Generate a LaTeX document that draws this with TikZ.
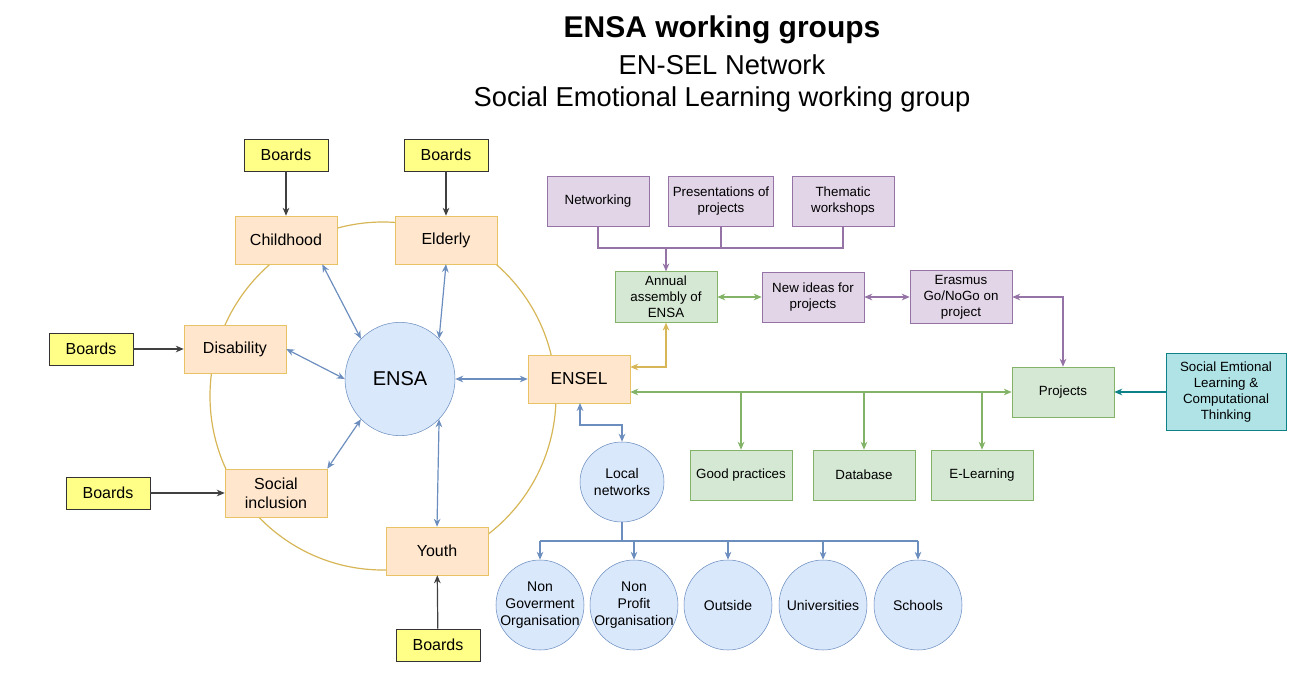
\documentclass[tikz,border=0pt]{standalone}
\usepackage{fontspec}
\setmainfont{Liberation Sans}
\usetikzlibrary{arrows.meta,positioning,shapes.geometric}
\definecolor{orgfill}{HTML}{FFE6CC}
\definecolor{orgline}{HTML}{D79B00}
\definecolor{yelfill}{HTML}{FFFF88}
\definecolor{grnfill}{HTML}{D5E8D4}
\definecolor{grnline}{HTML}{82B366}
\definecolor{purfill}{HTML}{E1D5E7}
\definecolor{purline}{HTML}{9673A6}
\definecolor{blufill}{HTML}{DAE8FC}
\definecolor{bluline}{HTML}{6C8EBF}
\definecolor{tealfill}{HTML}{B0E3E6}
\definecolor{tealline}{HTML}{0E8088}
\definecolor{gold}{HTML}{D6B656}
\tikzset{
  box/.style={draw, minimum width=76.5pt, minimum height=36pt, align=center, font=\fontsize{12}{14}\selectfont},
  board/.style={box, fill=yelfill, draw=black!80, minimum width=63pt, minimum height=24pt},
  group/.style={box, fill=orgfill, draw=orgline!60},
  task/.style={box, fill=purfill, draw=purline, minimum height=37.5pt, font=\fontsize{10}{12}\selectfont},
  item/.style={box, fill=grnfill, draw=grnline, minimum height=37.5pt, font=\fontsize{10}{12}\selectfont},
  bubble/.style={ellipse, draw=bluline, fill=blufill, inner sep=-8pt, minimum width=66pt, minimum height=67.5pt, align=center, font=\fontsize{10.5}{13}\selectfont},
  link/.style={-{Stealth[length=6pt,width=5pt]}, line width=0.9pt},
  both/.style={{Stealth[length=6pt,width=5pt]}-{Stealth[length=6pt,width=5pt]}, line width=0.9pt}
}
\begin{document}
\begin{tikzpicture}[x=0.75pt,y=-0.75pt]
\useasboundingbox (0,0) rectangle (1315,675);
% Title
\node (title) at (722,30) {\fontsize{22.5}{26}\selectfont\bfseries ENSA working groups};
\node (sub1) at (722,65) {\fontsize{20.5}{24}\selectfont EN-SEL Network};
\node (sub2) at (722,99) {\fontsize{20.5}{24}\selectfont Social Emotional Learning working group};

% Ring of groups
\draw[gold, line width=0.9pt] (383,396) ellipse (173 and 174);
\node[bubble, inner sep=0pt, minimum width=82.5pt, minimum height=85pt, font=\fontsize{15}{17}\selectfont] (ensa) at (400,379) {ENSA};
\node[group] (child) at (286,240) {Childhood};
\node[group] (elder) at (446,240) {Elderly};
\node[group] (disab) at (235,349) {Disability};
\node[group] (social) at (276,493) {Social\\inclusion};
\node[group] (youth) at (437,551) {Youth};
\node[group, font=\fontsize{13}{15}\selectfont] (ensel) at (579,379) {ENSEL};

% Boards
\node[board] (b1) at (286,155) {Boards};
\node[board] (b2) at (446,155) {Boards};
\node[board] (b3) at (91,349) {Boards};
\node[board] (b4) at (108,493) {Boards};
\node[board] (b5) at (438,645) {Boards};
\draw[link, black!75] (b1) -- (child);
\draw[link, black!75] (b2) -- (elder);
\draw[link, black!75] (b3) -- (disab);
\draw[link, black!75] (b4) -- (social);
\draw[link, black!75] (b5) -- (youth);

% ENSA links
\draw[both, bluline] (child.south east) ++(-15,0) coordinate (c1) (c1) -- (ensa.north west);
\draw[both, bluline] (elder.south) -- (ensa.north east);
\draw[both, bluline] (disab.east) -- (ensa.west);
\draw[both, bluline] (social.north east) -- (ensa.south west);
\draw[both, bluline] (youth.north) -- (ensa.south east);
\draw[both, bluline] (ensa.east) -- (ensel.west);

% Annual assembly chain
\node[task] (netw) at (598,201) {Networking};
\node[task] (pres) at (721,201) {Presentations of\\projects};
\node[task] (them) at (843,201) {Thematic\\workshops};
\node[item] (annual) at (666,297) {Annual\\assembly of\\ENSA};
\node[task] (ideas) at (813,297) {New ideas for\\projects};
\node[task] (eras) at (961,297) {Erasmus\\Go/NoGo on\\project};
\coordinate (pbus) at (666,248);
\draw[purline, line width=0.9pt] (netw.south) |- (them.south |- pbus) -- (them.south);
\draw[purline, line width=0.9pt] (pres.south) -- (pres.south |- pbus);
\draw[link, purline] (pbus) -- (annual.north);
\draw[both, grnline] (annual) -- (ideas);
\draw[both, purline] (ideas) -- (eras);
\draw[both, gold] (ensel.east |- 0,367) -| (annual.south);

% Projects and outputs
\node[item] (proj) at (1063,392) {Projects};
\node[box, fill=tealfill, draw=tealline, minimum width=90pt, minimum height=57.75pt, font=\fontsize{10}{12}\selectfont] (sel) at (1226,392) {Social Emtional\\Learning \&\\Computational\\Thinking};
\node[item] (good) at (741,475) {Good practices};
\node[item] (data) at (864,475) {Database};
\node[item] (elearn) at (982,475) {E-Learning};
\draw[both, purline] (eras.east) -| (proj.north);
\draw[link, tealline] (sel) -- (proj);
\draw[both, grnline] (ensel.east |- proj) -- (proj.west);
\draw[link, grnline] (good.north |- proj) -- (good.north);
\draw[link, grnline] (data.north |- proj) -- (data.north);
\draw[link, grnline] (elearn.north |- proj) -- (elearn.north);

% Local networks
\node[bubble, minimum width=63pt, minimum height=60pt] (local) at (622,482) {Local\\networks};
\node[bubble] (ngo) at (540,605) {Non\\Goverment\\Organisation};
\node[bubble] (npo) at (634,605) {Non\\Profit\\Organisation};
\node[bubble] (outs) at (728,605) {Outside};
\node[bubble] (univ) at (823,605) {Universities};
\node[bubble] (school) at (918,605) {Schools};
\draw[both, bluline, line width=2pt] (580,403) |- (622,425) -- (local.north);
\coordinate (lbus) at (622,541);
\draw[bluline, line width=0.9pt] (local.south) -- (lbus) (ngo.north |- lbus) -- (school.north |- lbus);
\foreach \n in {ngo,npo,outs,univ,school}
  \draw[link, bluline] (\n.north |- lbus) -- (\n.north);
\end{tikzpicture}
\end{document}
